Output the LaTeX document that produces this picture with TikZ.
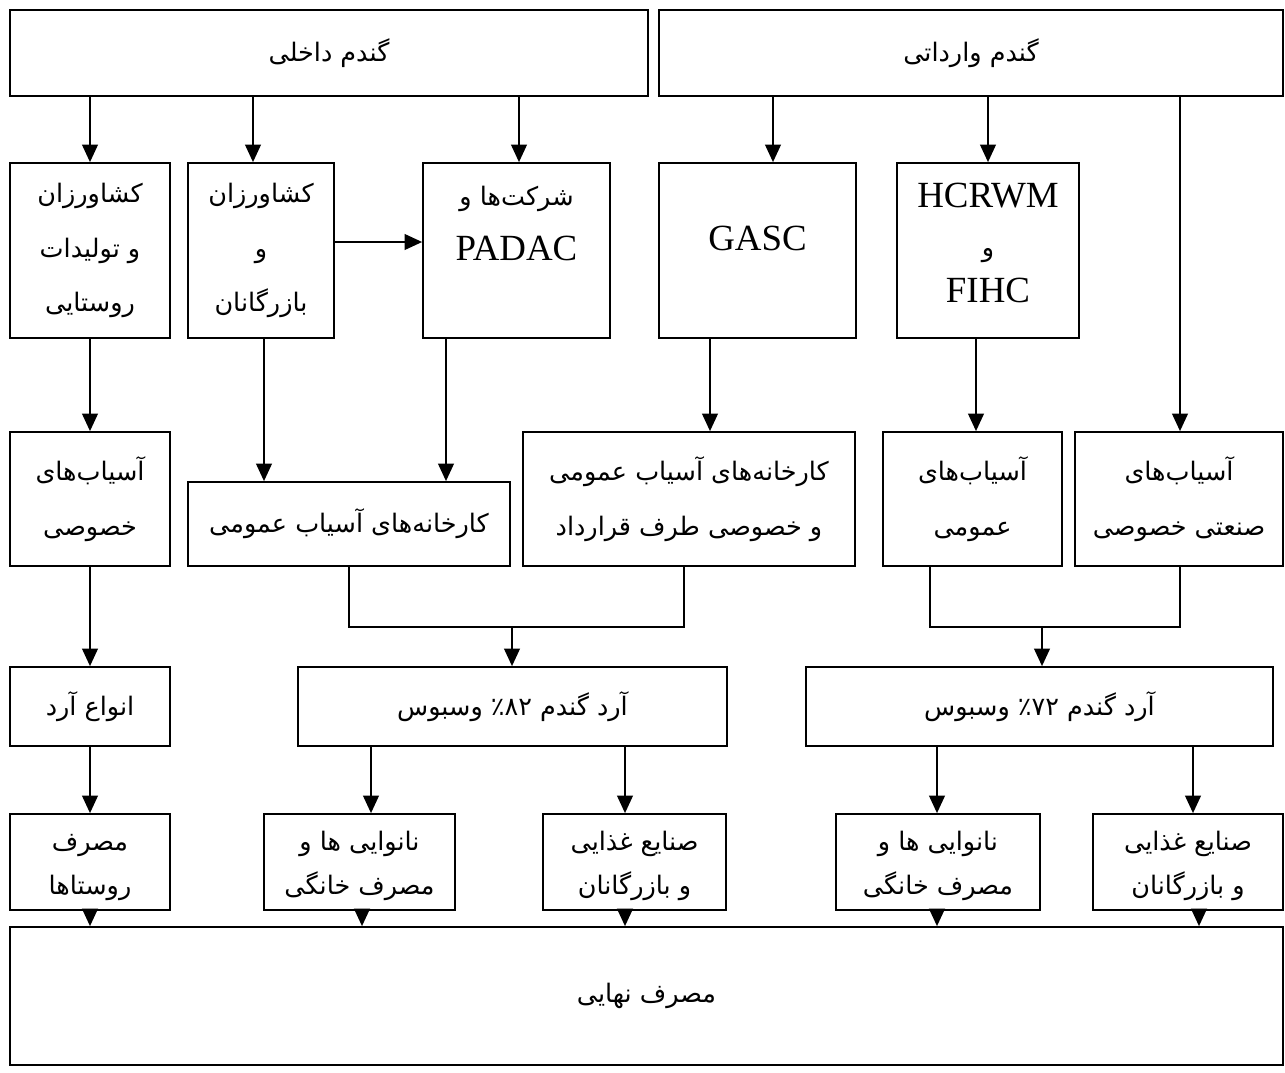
\documentclass[tikz,border=0pt]{standalone}
\usepackage{fontspec}
\setmainfont{Liberation Serif}
\newfontfamily\farsi[Script=Arabic]{DejaVu Sans}
\TeXXeTstate=1
\usetikzlibrary{arrows.meta}
\newcommand{\fa}[1]{{\farsi\beginR #1\endR}}
\newcommand{\tallstrut}{\rule{0pt}{16pt}}

\tikzset{
  box/.style={draw, line width=1pt, align=center, inner sep=0pt,
    font=\fontsize{14.5}{31}\selectfont},
  size/.style 2 args={minimum width=#1*0.02cm, minimum height=#2*0.02cm},
  arr/.style={line width=1pt, -{Triangle[width=9pt,length=10pt]}},
  link/.style={line width=1pt},
  latin/.style={font=\fontsize{21}{31}\selectfont},
  lowbox/.style={box, font=\fontsize{14.5}{25}\selectfont},
}

\begin{document}
\begin{tikzpicture}[x=0.02cm,y=-0.02cm]
  \useasboundingbox (0,0) rectangle (1285,1072);
  % sources
  \node[box, size={638}{86}] (home) at (329,53) {\fa{گندم داخلی}};
  \node[box, size={624}{86}] (import) at (971,53) {\fa{گندم وارداتی}};
  % buyers
  \node[box, size={160}{175}] (farmers) at (90,250.5)
    {\fa{کشاورزان}\\\fa{و تولیدات}\\\fa{روستایی}};
  \node[box, size={146}{175}] (traders) at (261,250.5)
    {\fa{کشاورزان}\\\fa{و}\\\fa{بازرگانان}};
  \node[box, size={187}{175}] (padac) at (516.5,250.5)
    {\fa{شرکت‌ها و}\\{\fontsize{21}{31}\selectfont PADAC}\\~};
  \node[box, latin, size={197}{175}] (gasc) at (757.5,250.5)
    {\raisebox{7pt}[\height][\depth]{GASC}};
  \node[box, latin, size={182}{175}] (hcrwm) at (988,250.5)
    {HCRWM\\[-3pt]{\fontsize{14.5}{31}\selectfont\fa{و}}\\[-5pt]FIHC\\[-22pt]~};
  % mills
  \node[box, size={160}{134}] (privmill) at (90,499)
    {\fa{آسیاب‌های}\\\fa{خصوصی}};
  \node[box, size={322}{84}] (pubfactory) at (349,524)
    {\fa{کارخانه‌های آسیاب عمومی}};
  \node[box, size={332}{134}] (contract) at (689,499)
    {\fa{کارخانه‌های آسیاب عمومی}\\\fa{و خصوصی طرف قرارداد}};
  \node[box, size={179}{134}] (pubmill) at (972.5,499)
    {\fa{آسیاب‌های}\\\fa{عمومی}};
  \node[box, size={208}{134}] (indmill) at (1179,499)
    {\fa{آسیاب‌های}\\\fa{صنعتی خصوصی}};
  % flour
  \node[box, size={160}{79}] (flours) at (90,706.5) {\fa{انواع آرد}};
  \node[box, size={429}{79}] (flourA) at (512.5,706.5)
    {\fa{آرد گندم ٪۸۲ وسبوس}};
  \node[box, size={467}{79}] (flourB) at (1039.5,706.5)
    {\fa{آرد گندم ٪۷۲ وسبوس}};
  % users
  \node[lowbox, size={160}{96}] (village) at (90,862)
    {\tallstrut\fa{مصرف}\\\fa{روستاها}};
  \node[lowbox, size={191}{96}] (bakeA) at (359.5,862)
    {\tallstrut\fa{نانوایی ها و}\\\fa{مصرف خانگی}};
  \node[lowbox, size={183}{96}] (foodA) at (634.5,862)
    {\tallstrut\fa{صنایع غذایی}\\\fa{و بازرگانان}};
  \node[lowbox, size={204}{96}] (bakeB) at (938,862)
    {\tallstrut\fa{نانوایی ها و}\\\fa{مصرف خانگی}};
  \node[lowbox, size={190}{96}] (foodB) at (1188,862)
    {\tallstrut\fa{صنایع غذایی}\\\fa{و بازرگانان}};
  \node[box, size={1273}{138}] (final) at (646.5,996) {\fa{مصرف نهایی}};

  % connectors
  \draw[arr] (home.south -| 90,0) -- (farmers.north -| 90,0);
  \draw[arr] (home.south -| 253,0) -- (traders.north -| 253,0);
  \draw[arr] (home.south -| 519,0) -- (padac.north -| 519,0);
  \draw[arr] (import.south -| 773,0) -- (gasc.north -| 773,0);
  \draw[arr] (import.south -| 988,0) -- (hcrwm.north -| 988,0);
  \draw[arr] (import.south -| 1180,0) -- (indmill.north -| 1180,0);
  \draw[arr] (traders.east |- 0,242) -- (padac.west |- 0,242);
  \draw[arr] (farmers.south) -- (privmill.north);
  \draw[arr] (traders.south -| 264,0) -- (pubfactory.north -| 264,0);
  \draw[arr] (padac.south -| 446,0) -- (pubfactory.north -| 446,0);
  \draw[arr] (gasc.south -| 710,0) -- (contract.north -| 710,0);
  \draw[arr] (hcrwm.south -| 976,0) -- (pubmill.north -| 976,0);
  \draw[arr] (privmill.south) -- (flours.north);
  \draw[link] (pubfactory.south) -- ++(0,60) -| (contract.south -| 684,0);
  \coordinate (joinA) at (512,626);
  \draw[arr] (joinA) -- (flourA.north -| joinA);
  \draw[link] (pubmill.south -| 930,0) -- ++(0,60) -| (indmill.south -| 1180,0);
  \coordinate (joinB) at (1042,626);
  \draw[arr] (joinB) -- (flourB.north -| joinB);
  \draw[arr] (flours.south) -- (village.north);
  \draw[arr] (flourA.south -| 371,0) -- (bakeA.north -| 371,0);
  \draw[arr] (flourA.south -| 625,0) -- (foodA.north -| 625,0);
  \draw[arr] (flourB.south -| 937,0) -- (bakeB.north -| 937,0);
  \draw[arr] (flourB.south -| 1193,0) -- (foodB.north -| 1193,0);
  \draw[arr] (village.south) -- (final.north -| village);
  \draw[arr] (bakeA.south -| 362,0) -- (final.north -| 362,0);
  \draw[arr] (foodA.south -| 625,0) -- (final.north -| 625,0);
  \draw[arr] (bakeB.south -| 937,0) -- (final.north -| 937,0);
  \draw[arr] (foodB.south -| 1199,0) -- (final.north -| 1199,0);
\end{tikzpicture}
\end{document}
